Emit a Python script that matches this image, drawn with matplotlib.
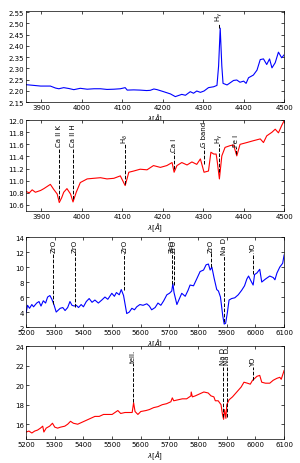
import matplotlib
matplotlib.use('Agg')
import matplotlib.pyplot as plt
from matplotlib.ticker import MultipleLocator

# ---------------- data ----------------
wl1 = [3863, 3875, 3898, 3922, 3935, 3943, 3955, 3968, 3980, 3996, 4013, 4030, 4046, 4062,
       4079, 4095, 4107, 4112, 4128, 4144, 4160, 4169, 4178, 4186, 4202, 4219, 4231, 4247,
       4256, 4268, 4276, 4284, 4293, 4302, 4313, 4326, 4334, 4338, 4342, 4346, 4349, 4359,
       4367, 4375, 4383, 4391, 4400, 4406, 4412, 4424, 4433, 4441, 4449, 4457, 4464, 4470,
       4478, 4486, 4494, 4500]
fl1 = [2.227, 2.225, 2.221, 2.221, 2.212, 2.209, 2.214, 2.210, 2.205, 2.211, 2.207, 2.209,
       2.209, 2.206, 2.207, 2.209, 2.214, 2.203, 2.204, 2.203, 2.201, 2.202, 2.208, 2.205,
       2.196, 2.186, 2.174, 2.184, 2.180, 2.196, 2.189, 2.199, 2.193, 2.199, 2.214, 2.218,
       2.224, 2.310, 2.479, 2.310, 2.233, 2.226, 2.236, 2.246, 2.248, 2.238, 2.243, 2.233,
       2.258, 2.270, 2.292, 2.339, 2.342, 2.317, 2.342, 2.302, 2.325, 2.372, 2.347, 2.360]

wl2 = [3863, 3870, 3877, 3885, 3898, 3906, 3922, 3930, 3939, 3944, 3950, 3955, 3963, 3972,
       3978, 3986, 3996, 4013, 4029, 4046, 4062, 4079, 4095, 4107, 4116, 4128, 4144, 4161,
       4177, 4194, 4210, 4223, 4228, 4235, 4247, 4260, 4272, 4284, 4293, 4302, 4313, 4319,
       4326, 4332, 4335, 4340, 4346, 4354, 4367, 4375, 4383, 4391, 4408, 4424, 4441, 4449,
       4457, 4470, 4478, 4486, 4494, 4500]
fl2 = [10.82, 10.80, 10.85, 10.81, 10.84, 10.87, 10.94, 10.86, 10.78, 10.64, 10.72, 10.81,
       10.87, 10.78, 10.65, 10.81, 10.97, 11.03, 11.04, 11.05, 11.03, 11.04, 11.08, 10.92,
       11.14, 11.16, 11.19, 11.18, 11.25, 11.22, 11.25, 11.30, 11.14, 11.25, 11.30, 11.26,
       11.31, 11.27, 11.36, 11.14, 11.16, 11.47, 11.44, 11.44, 11.30, 11.03, 11.41, 11.55,
       11.58, 11.59, 11.41, 11.60, 11.63, 11.66, 11.69, 11.63, 11.74, 11.80, 11.85, 11.79,
       11.91, 11.99]

wl3 = [5200, 5205, 5212, 5220, 5226, 5237, 5245, 5252, 5260, 5268, 5275, 5283, 5290, 5297,
       5305, 5319, 5328, 5336, 5345, 5353, 5360, 5368, 5375, 5383, 5392, 5400, 5410, 5420,
       5430, 5440, 5452, 5464, 5475, 5485, 5499, 5508, 5515, 5525, 5532, 5540, 5551, 5560,
       5569, 5578, 5586, 5597, 5608, 5621, 5630, 5638, 5650, 5660, 5670, 5680, 5691, 5700,
       5708, 5712, 5716, 5726, 5735, 5743, 5755, 5765, 5772, 5784, 5795, 5807, 5819, 5828,
       5836, 5842, 5848, 5856, 5865, 5871, 5878, 5886, 5891, 5896, 5902, 5908, 5917, 5928,
       5940, 5952, 5962, 5970, 5976, 5985, 5992, 5997, 6005, 6015, 6022, 6035, 6050, 6062,
       6068, 6075, 6085, 6095, 6100]
fl3 = [3.9, 4.9, 4.5, 5.0, 4.7, 5.2, 5.4, 4.8, 5.5, 5.2, 6.0, 6.2, 5.7, 5.0,
       4.0, 4.5, 4.6, 4.2, 4.6, 5.4, 4.9, 4.8, 4.9, 4.6, 5.0, 4.7, 5.4, 5.8,
       5.3, 5.6, 5.2, 5.6, 6.0, 5.7, 6.5, 6.1, 6.6, 6.3, 7.0, 6.2, 3.8, 4.0,
       4.5, 4.3, 4.7, 5.0, 4.9, 5.1, 4.8, 4.3, 4.6, 5.2, 4.9, 5.5, 6.3, 6.5,
       6.8, 7.8, 6.6, 5.0, 5.8, 6.5, 6.1, 6.9, 7.6, 7.5, 8.4, 9.4, 9.6, 10.3,
       10.4, 9.6, 10.0, 8.5, 7.0, 6.8, 6.0, 3.5, 2.4, 2.5, 3.9, 5.6, 5.8, 5.9,
       6.3, 6.9, 7.5, 8.4, 8.8, 8.1, 7.6, 9.0, 9.2, 9.7, 8.0, 8.4, 8.8, 8.6,
       8.3, 9.2, 10.0, 10.5, 11.6]

wl4 = [5200, 5210, 5220, 5230, 5240, 5250, 5258, 5262, 5270, 5282, 5292, 5300, 5310, 5320,
       5335, 5345, 5355, 5365, 5380, 5395, 5410, 5425, 5440, 5455, 5470, 5485, 5500, 5510,
       5520, 5530, 5545, 5560, 5570, 5575, 5580, 5590, 5600, 5618, 5630, 5645, 5660, 5675,
       5690, 5705, 5710, 5715, 5730, 5745, 5760, 5775, 5776, 5780, 5790, 5805, 5820, 5835,
       5845, 5855, 5860, 5870, 5880, 5885, 5889, 5892, 5897, 5900, 5908, 5920, 5935, 5950,
       5960, 5972, 5982, 5990, 5998, 6005, 6015, 6022, 6035, 6050, 6062, 6075, 6085, 6090,
       6100]
fl4 = [15.2, 15.3, 15.1, 15.3, 15.4, 15.6, 15.8, 15.2, 15.6, 15.8, 16.1, 15.7, 15.6, 15.7,
       15.8, 16.0, 16.3, 16.1, 16.0, 16.2, 16.4, 16.6, 16.8, 16.8, 17.0, 17.0, 17.0, 17.2,
       17.4, 17.1, 17.2, 17.2, 17.2, 18.2, 17.3, 17.0, 17.3, 17.4, 17.5, 17.7, 17.8, 18.0,
       18.1, 18.3, 18.7, 18.4, 18.5, 18.6, 18.6, 18.9, 19.3, 18.8, 18.9, 19.1, 19.3, 19.2,
       18.9, 18.8, 18.4, 18.4, 18.0, 17.0, 16.5, 17.5, 16.6, 18.0, 18.5, 18.8, 19.3, 19.8,
       20.3, 20.2, 20.1, 20.5, 20.7, 20.9, 21.0, 20.3, 20.2, 20.2, 20.5, 20.7, 20.8, 20.6,
       21.5]

# line identifications: wavelength, name, text bottom, line bottom
lines1_wl = [4340]
lines1_txt = [r'H$_\gamma$']
lines1_ty = [2.51]
lines1_lb = [2.479]

lines2_wl = [3944, 3977, 4107, 4228, 4302, 4340, 4381]
lines2_txt = ['Ca II K', 'Ca II H', r'H$_\delta$', 'Ca I', 'G band', r'H$_\gamma$', 'Fe I']
lines2_ty = [11.58, 11.58, 11.63, 11.49, 11.58, 11.63, 11.58]
lines2_lb = [10.70, 10.70, 10.95, 11.19, 11.27, 11.14, 11.44]

lines3_wl = [5295, 5369, 5543, 5708, 5716, 5844, 5892, 5993]
lines3_txt = ['ZrO', 'ZrO', 'ZrO', 'ZrO', 'ZrO', 'ZrO', 'Na D', 'YO']
lines3_ty = [12.0, 12.0, 12.0, 12.0, 12.0, 12.0, 11.8, 12.0]
lines3_lb = [5.1, 4.7, 6.9, 7.8, 7.6, 10.0, 2.7, 9.1]

lines4_wl = [5574, 5888, 5900, 5993]
lines4_txt = ['tell.', 'Na D', 'Na D', 'YO']
lines4_ty = [22.37, 22.2, 22.2, 22.0]
lines4_lb = [18.3, 16.75, 16.75, 20.5]

# ---------------- figure ----------------
fig = plt.figure(figsize=(3.0, 4.64), dpi=100)
panels = [
    dict(rect=[0.087, 0.778, 0.86, 0.196], wl=wl1, fl=fl1, c='b', xlim=(3862, 4500),
         ylim=(2.15, 2.555), ymaj=0.05, fmt='%.2f',
         lw=lines1_wl, lt=lines1_txt, ly=lines1_ty, lb=lines1_lb),
    dict(rect=[0.087, 0.543, 0.86, 0.196], wl=wl2, fl=fl2, c='r', xlim=(3862, 4500),
         ylim=(10.5, 12.0), ymaj=0.2, fmt='%.1f',
         lw=lines2_wl, lt=lines2_txt, ly=lines2_ty, lb=lines2_lb),
    dict(rect=[0.087, 0.293, 0.86, 0.194], wl=wl3, fl=fl3, c='b', xlim=(5200, 6100),
         ylim=(2, 14), ymaj=2, fmt='%d',
         lw=lines3_wl, lt=lines3_txt, ly=lines3_ty, lb=lines3_lb),
    dict(rect=[0.087, 0.052, 0.86, 0.200], wl=wl4, fl=fl4, c='r', xlim=(5200, 6100),
         ylim=(14.5, 24), ymaj=2, fmt='%d',
         lw=lines4_wl, lt=lines4_txt, ly=lines4_ty, lb=lines4_lb),
]

from matplotlib.ticker import FormatStrFormatter
for p in panels:
    ax = fig.add_axes(p['rect'])
    ax.plot(p['wl'], p['fl'], color=p['c'], lw=0.8)
    ax.set_xlim(*p['xlim'])
    ax.set_ylim(*p['ylim'])
    ax.xaxis.set_major_locator(MultipleLocator(100))
    ax.yaxis.set_major_locator(MultipleLocator(p['ymaj']))
    ax.yaxis.set_major_formatter(FormatStrFormatter(p['fmt']))
    ax.tick_params(direction='in', top=True, right=True, labelsize=5,
                   length=2, width=0.5, pad=1.5)
    for s in ax.spines.values():
        s.set_linewidth(0.5)
    ax.set_xlabel(r'$\lambda[\AA]$', fontsize=5, labelpad=1)
    rng = p['ylim'][1] - p['ylim'][0]
    for w, t, ty, lb in zip(p['lw'], p['lt'], p['ly'], p['lb']):
        ax.vlines(w, lb, ty - 0.015 * rng, colors='k', linestyles='--', lw=0.7)
        ax.text(w, ty, t, rotation=90, ha='center', va='bottom', fontsize=5,
                clip_on=False)

fig.savefig('out.png', dpi=100)
